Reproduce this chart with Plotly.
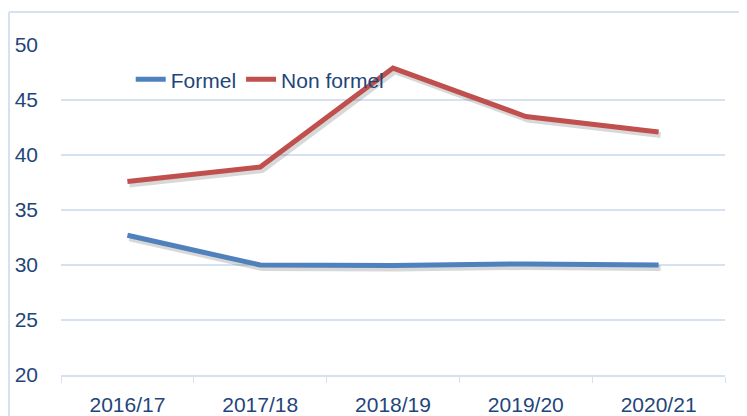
import plotly.graph_objects as go

categories = ["2016/17", "2017/18", "2018/19", "2019/20", "2020/21"]
formel = [32.7, 30.0, 29.95, 30.1, 30.0]
non_formel = [37.6, 38.9, 47.9, 43.5, 42.1]
y_ticks = [20, 25, 30, 35, 40, 45, 50]

BLUE = "#4F81BD"
RED = "#C0504D"
GRID = "#D6E2F1"
TXT = "#1F467A"
FONT = "Liberation Sans"
FS = 21

# the page body adds an 8px margin, so the figure is sized to the visible area
W, H = 739, 408
L, R, T, B = 53, 22, 37, 41
pw = W - L - R
ph = H - T - B
xr = [-0.5, 4.5]
yr = [20, 50]
# shadow offset in pixels
dx_px, dy_px = 2, 3
dx = dx_px * (xr[1] - xr[0]) / pw
dy = dy_px * (yr[1] - yr[0]) / ph

fig = go.Figure()

# shadows (base subplot, shifted ranges, hidden axes)
for vals in (formel, non_formel):
    fig.add_trace(go.Scatter(x=categories, y=vals, mode="lines", xaxis="x", yaxis="y",
                             line=dict(color="rgba(60,60,60,0.2)", width=6),
                             showlegend=False, hoverinfo="skip"))

fig.add_trace(go.Scatter(x=categories, y=formel, mode="lines", name="Formel",
                         xaxis="x2", yaxis="y2", line=dict(color=BLUE, width=5)))
fig.add_trace(go.Scatter(x=categories, y=non_formel, mode="lines", name="Non formel",
                         xaxis="x2", yaxis="y2", line=dict(color=RED, width=5)))

fig.update_layout(
    width=W, height=H,
    margin=dict(l=L, r=R, t=T, b=B, autoexpand=False),
    paper_bgcolor="white", plot_bgcolor="white",
    font=dict(family=FONT, size=FS, color=TXT),
    xaxis=dict(type="category", categoryarray=categories, domain=[0, 1],
               range=[xr[0] - dx, xr[1] - dx], visible=False, showgrid=False, zeroline=False),
    yaxis=dict(domain=[0, 1], range=[yr[0] + dy, yr[1] + dy], visible=False,
               showgrid=False, zeroline=False),
    xaxis2=dict(type="category", categoryarray=categories, overlaying="x", anchor="y2",
                range=xr, automargin=False,
                showgrid=False, showline=True, linecolor=GRID, linewidth=1.5,
                ticks="outside", tickson="boundaries", ticklen=6, tickcolor=GRID,
                ticklabelstandoff=10,
                tickfont=dict(family=FONT, size=FS, color=TXT)),
    yaxis2=dict(overlaying="y", anchor="x2", side="left", range=yr, tickvals=y_ticks,
                automargin=False,
                showgrid=True, gridcolor=GRID, gridwidth=1.5,
                zeroline=False, showline=False, ticks="", ticklabelstandoff=22,
                tickfont=dict(family=FONT, size=FS, color=TXT)),
    legend=dict(orientation="h", x=0.105, y=0.895, xanchor="left", yanchor="middle",
                bgcolor="rgba(0,0,0,0)", font=dict(family=FONT, size=FS, color=TXT)),
    shapes=[
        dict(type="line", xref="paper", yref="paper",
             x0=(1 - L) / pw, x1=(1 - L) / pw, y0=(H - B - 4) / ph, y1=-B / ph - 0.01,
             line=dict(color=GRID, width=2)),
        dict(type="line", xref="paper", yref="paper",
             x0=(1 - L) / pw, x1=(W - L) / pw + 0.01, y0=(H - B - 4) / ph, y1=(H - B - 4) / ph,
             line=dict(color=GRID, width=2)),
    ],
)

fig.write_html("out.html")
